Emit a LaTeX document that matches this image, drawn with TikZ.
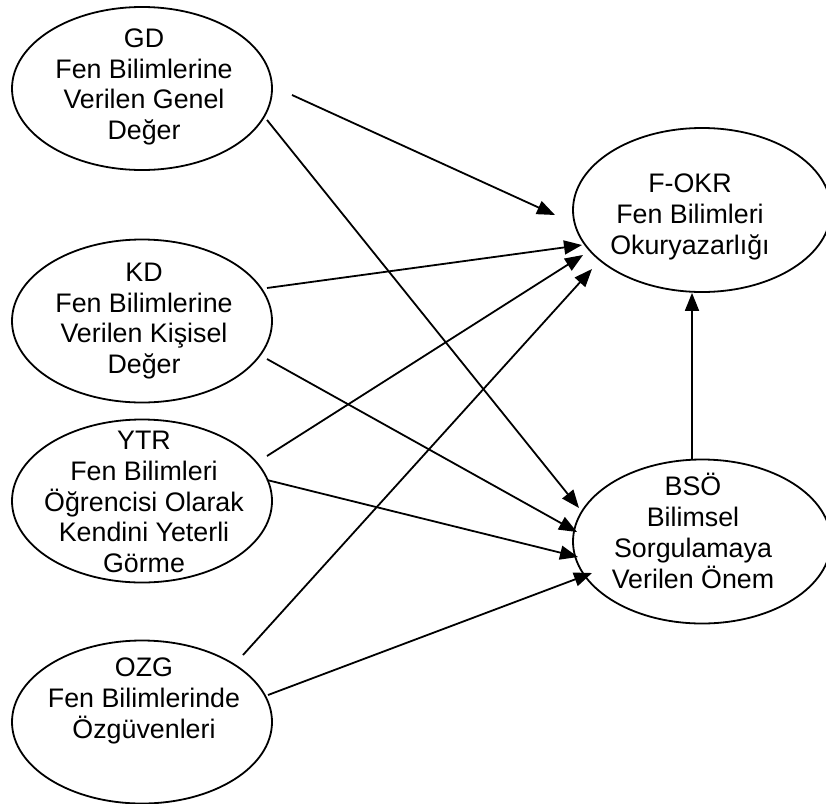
\documentclass[tikz,border=0pt]{standalone}
\usepackage{fontspec}
\setmainfont{Liberation Sans}
\usetikzlibrary{shapes.geometric,arrows.meta}

\tikzset{
  ell/.style={draw, ellipse, line width=1.8pt, inner sep=0pt,
              minimum width=260pt, minimum height=163pt},
  ellr/.style={ell, minimum width=258pt, minimum height=164pt},
  txt/.style={align=center, inner sep=0pt,
              font=\fontsize{26.8}{30.8}\selectfont},
  arr/.style={-{Triangle[length=18pt,width=14pt]}, line width=1.8pt},
}

\begin{document}
\begin{tikzpicture}[x=1pt, y=-1pt]
  \useasboundingbox (0,0) rectangle (826,803);
  \clip (0,0) rectangle (826,803);

  % latent constructs (left column)
  \node[ell] (gd)  at (142, 88.5) {};
  \node[ell] (kd)  at (142, 321)  {};
  \node[ell] (ytr) at (142, 501)  {};
  \node[ell] (ozg) at (142, 722)  {};

  % outcome constructs (right column)
  \node[ellr] (fokr) at (702, 210)   {};
  \node[ellr] (bso)  at (702, 541.5) {};

  % labels
  \node[txt] (gd-t)   at (144, 87)  {GD\\Fen Bilimlerine\\Verilen Genel\\Değer};
  \node[txt] (kd-t)   at (144, 321) {KD\\Fen Bilimlerine\\Verilen Kişisel\\Değer};
  \node[txt] (ytr-t)  at (144, 502) {YTR\\Fen Bilimleri\\Öğrencisi Olarak\\Kendini Yeterli\\Görme};
  \node[txt] (ozg-t)  at (144, 701) {OZG\\Fen Bilimlerinde\\Özgüvenleri};
  \node[txt] (fokr-t) at (690, 217) {F-OKR\\Fen Bilimleri\\Okuryazarlığı};
  \node[txt] (bso-t)  at (693, 531) {BSÖ\\Bilimsel\\Sorgulamaya\\Verilen Önem};

  % paths to F-OKR
  \draw[arr] ([shift={(150,6.5)}]gd.center)  -- ([shift={(-147,5)}]fokr.center);
  \draw[arr] ([shift={(125,-33)}]kd.center)  -- ([shift={(-120,35)}]fokr.center);
  \draw[arr] ([shift={(125,-45)}]ytr.center) -- ([shift={(-119,45)}]fokr.center);
  \draw[arr] ([shift={(101,-67)}]ozg.center) -- ([shift={(-110,59)}]fokr.center);

  % paths to BSÖ
  \draw[arr] ([shift={(125,31.5)}]gd.center) -- ([shift={(-123,-33.5)}]bso.center);
  \draw[arr] ([shift={(125,38)}]kd.center)   -- ([shift={(-125,-9.5)}]bso.center);
  \draw[arr] ([shift={(125,-21)}]ytr.center) -- ([shift={(-124,15.5)}]bso.center);
  \draw[arr] ([shift={(126,-27)}]ozg.center) -- ([shift={(-110,31.5)}]bso.center);

  % BSÖ -> F-OKR
  \draw[arr] ([xshift=-10pt]bso.north) -- ([xshift=-10pt]fokr.south);
\end{tikzpicture}
\end{document}
